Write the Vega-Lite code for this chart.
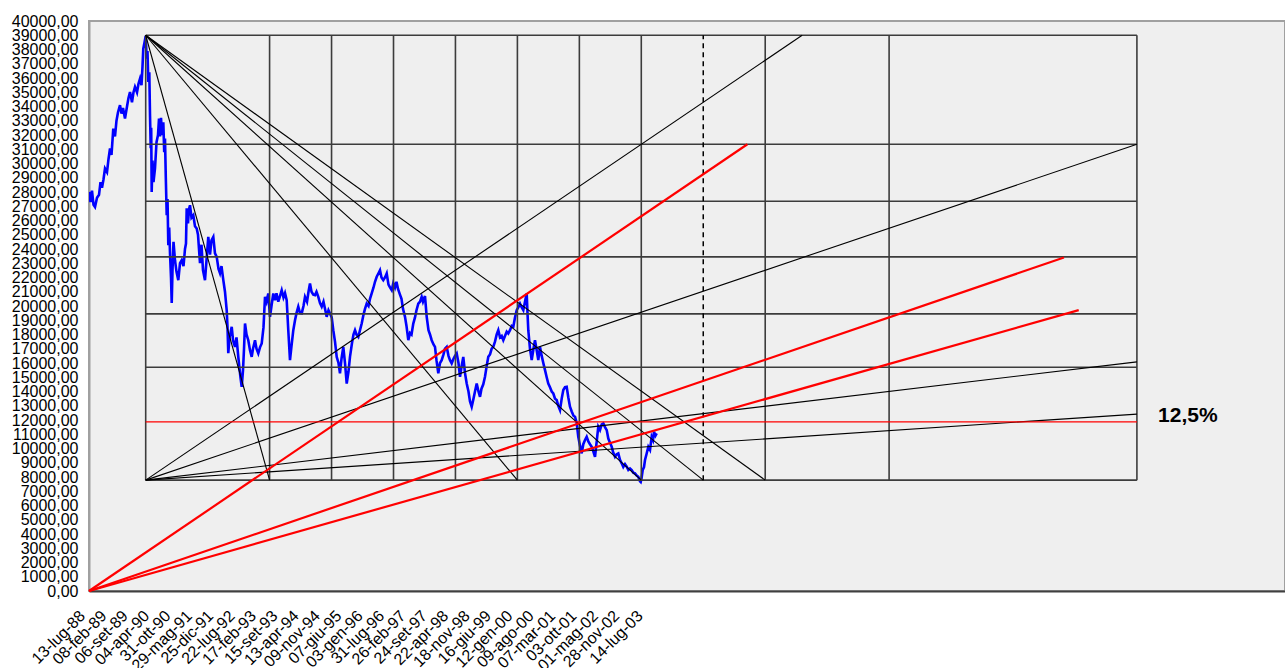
{
  "$schema": "https://vega.github.io/schema/vega-lite/v6.json",
  "width": 1196,
  "height": 570,
  "autosize": "none",
  "padding": {"left": 89, "top": 21, "right": 0, "bottom": 77},
  "background": "white",
  "config": {
    "view": {"fill": "#efefef", "stroke": "#a0a0a0", "strokeWidth": 2},
    "font": "Liberation Sans"
  },
  "datasets": {
    "nikkei": [
      {"t":1988.475,"v":28000},{"t":1988.515,"v":27300},{"t":1988.555,"v":28100},{"t":1988.596,"v":27100},{"t":1988.636,"v":26950},{"t":1988.690,"v":27600},{"t":1988.744,"v":27800},{"t":1988.784,"v":28700},{"t":1988.824,"v":28300},{"t":1988.865,"v":28900},{"t":1988.905,"v":29650},{"t":1988.959,"v":29400},{"t":1988.999,"v":30300},{"t":1989.040,"v":31050},{"t":1989.080,"v":30600},{"t":1989.128,"v":32450},{"t":1989.174,"v":31900},{"t":1989.214,"v":33000},{"t":1989.255,"v":33600},{"t":1989.309,"v":34090},{"t":1989.349,"v":33500},{"t":1989.389,"v":33900},{"t":1989.443,"v":33150},{"t":1989.497,"v":34000},{"t":1989.537,"v":34600},{"t":1989.578,"v":35020},{"t":1989.631,"v":34300},{"t":1989.672,"v":35000},{"t":1989.712,"v":35370},{"t":1989.766,"v":35000},{"t":1989.806,"v":35600},{"t":1989.847,"v":35960},{"t":1989.887,"v":35500},{"t":1989.914,"v":36800},{"t":1989.935,"v":38060},{"t":1989.968,"v":38500},{"t":1990.000,"v":38950},{"t":1990.027,"v":37360},{"t":1990.048,"v":37900},{"t":1990.070,"v":35720},{"t":1990.097,"v":36400},{"t":1990.116,"v":33380},{"t":1990.135,"v":31070},{"t":1990.148,"v":32500},{"t":1990.161,"v":28000},{"t":1990.183,"v":30200},{"t":1990.210,"v":28700},{"t":1990.250,"v":29650},{"t":1990.291,"v":31500},{"t":1990.331,"v":32000},{"t":1990.358,"v":33150},{"t":1990.385,"v":31900},{"t":1990.412,"v":33200},{"t":1990.439,"v":32000},{"t":1990.474,"v":32900},{"t":1990.498,"v":30800},{"t":1990.519,"v":31750},{"t":1990.541,"v":29000},{"t":1990.565,"v":26370},{"t":1990.587,"v":27500},{"t":1990.608,"v":24270},{"t":1990.632,"v":25500},{"t":1990.654,"v":23700},{"t":1990.681,"v":22000},{"t":1990.700,"v":20220},{"t":1990.721,"v":22500},{"t":1990.748,"v":24500},{"t":1990.788,"v":23210},{"t":1990.829,"v":22400},{"t":1990.877,"v":21810},{"t":1990.923,"v":23000},{"t":1990.969,"v":23210},{"t":1991.017,"v":22800},{"t":1991.057,"v":24000},{"t":1991.084,"v":24380},{"t":1991.103,"v":26850},{"t":1991.138,"v":25800},{"t":1991.165,"v":26800},{"t":1991.192,"v":27070},{"t":1991.232,"v":26200},{"t":1991.281,"v":26370},{"t":1991.326,"v":25600},{"t":1991.372,"v":25440},{"t":1991.407,"v":25000},{"t":1991.461,"v":23000},{"t":1991.501,"v":24300},{"t":1991.542,"v":22500},{"t":1991.595,"v":21810},{"t":1991.636,"v":23200},{"t":1991.684,"v":24850},{"t":1991.730,"v":23600},{"t":1991.770,"v":24600},{"t":1991.819,"v":24850},{"t":1991.864,"v":23700},{"t":1991.910,"v":23450},{"t":1991.959,"v":22600},{"t":1991.999,"v":22300},{"t":1992.039,"v":22800},{"t":1992.088,"v":21810},{"t":1992.133,"v":21000},{"t":1992.179,"v":19710},{"t":1992.201,"v":18500},{"t":1992.222,"v":16690},{"t":1992.255,"v":17800},{"t":1992.314,"v":18540},{"t":1992.349,"v":17600},{"t":1992.402,"v":17130},{"t":1992.443,"v":17800},{"t":1992.491,"v":16430},{"t":1992.524,"v":15600},{"t":1992.550,"v":15000},{"t":1992.583,"v":14330},{"t":1992.618,"v":15500},{"t":1992.645,"v":17000},{"t":1992.672,"v":18770},{"t":1992.712,"v":18000},{"t":1992.760,"v":17600},{"t":1992.806,"v":16900},{"t":1992.852,"v":16430},{"t":1992.887,"v":17000},{"t":1992.941,"v":17600},{"t":1992.981,"v":17000},{"t":1993.029,"v":16670},{"t":1993.075,"v":17100},{"t":1993.121,"v":17370},{"t":1993.169,"v":18500},{"t":1993.210,"v":20640},{"t":1993.250,"v":20300},{"t":1993.298,"v":20880},{"t":1993.344,"v":19240},{"t":1993.384,"v":20000},{"t":1993.433,"v":20880},{"t":1993.479,"v":20400},{"t":1993.519,"v":20900},{"t":1993.567,"v":20300},{"t":1993.613,"v":20700},{"t":1993.659,"v":21110},{"t":1993.707,"v":20600},{"t":1993.748,"v":20900},{"t":1993.793,"v":20410},{"t":1993.836,"v":18300},{"t":1993.882,"v":16200},{"t":1993.923,"v":17200},{"t":1993.971,"v":18300},{"t":1994.017,"v":19000},{"t":1994.057,"v":19500},{"t":1994.105,"v":19950},{"t":1994.151,"v":19500},{"t":1994.197,"v":19480},{"t":1994.245,"v":20000},{"t":1994.286,"v":20640},{"t":1994.340,"v":20300},{"t":1994.380,"v":21000},{"t":1994.420,"v":21580},{"t":1994.461,"v":21000},{"t":1994.509,"v":20800},{"t":1994.555,"v":20760},{"t":1994.595,"v":21000},{"t":1994.644,"v":20640},{"t":1994.689,"v":20200},{"t":1994.735,"v":19950},{"t":1994.783,"v":20300},{"t":1994.824,"v":19800},{"t":1994.869,"v":19240},{"t":1994.918,"v":19700},{"t":1994.958,"v":19480},{"t":1995.004,"v":19200},{"t":1995.047,"v":18300},{"t":1995.093,"v":17500},{"t":1995.139,"v":16430},{"t":1995.187,"v":16000},{"t":1995.227,"v":15270},{"t":1995.268,"v":16300},{"t":1995.316,"v":17130},{"t":1995.362,"v":16000},{"t":1995.408,"v":14560},{"t":1995.456,"v":15400},{"t":1995.496,"v":16430},{"t":1995.550,"v":17400},{"t":1995.590,"v":18000},{"t":1995.631,"v":18300},{"t":1995.671,"v":18000},{"t":1995.720,"v":17840},{"t":1995.765,"v":18300},{"t":1995.811,"v":18770},{"t":1995.860,"v":19400},{"t":1995.900,"v":19800},{"t":1995.946,"v":20170},{"t":1995.994,"v":20000},{"t":1996.034,"v":20500},{"t":1996.080,"v":20880},{"t":1996.129,"v":21300},{"t":1996.169,"v":21700},{"t":1996.215,"v":22050},{"t":1996.263,"v":22300},{"t":1996.303,"v":22510},{"t":1996.344,"v":22000},{"t":1996.392,"v":21810},{"t":1996.438,"v":22000},{"t":1996.484,"v":22280},{"t":1996.532,"v":21500},{"t":1996.572,"v":21300},{"t":1996.618,"v":21110},{"t":1996.661,"v":21600},{"t":1996.707,"v":21300},{"t":1996.747,"v":21700},{"t":1996.788,"v":21200},{"t":1996.841,"v":20800},{"t":1996.882,"v":20500},{"t":1996.922,"v":19800},{"t":1996.976,"v":19240},{"t":1997.016,"v":18600},{"t":1997.065,"v":17600},{"t":1997.111,"v":18100},{"t":1997.151,"v":18000},{"t":1997.199,"v":18770},{"t":1997.245,"v":19200},{"t":1997.285,"v":19700},{"t":1997.334,"v":20170},{"t":1997.380,"v":20300},{"t":1997.425,"v":20640},{"t":1997.460,"v":20300},{"t":1997.514,"v":20700},{"t":1997.560,"v":19240},{"t":1997.608,"v":18300},{"t":1997.649,"v":18000},{"t":1997.694,"v":17600},{"t":1997.743,"v":17300},{"t":1997.783,"v":17130},{"t":1997.823,"v":16200},{"t":1997.872,"v":15270},{"t":1997.918,"v":16000},{"t":1997.963,"v":16200},{"t":1998.012,"v":16600},{"t":1998.052,"v":17000},{"t":1998.098,"v":17130},{"t":1998.146,"v":16500},{"t":1998.187,"v":16200},{"t":1998.232,"v":15970},{"t":1998.281,"v":16300},{"t":1998.321,"v":16500},{"t":1998.367,"v":16670},{"t":1998.415,"v":16000},{"t":1998.456,"v":15030},{"t":1998.501,"v":15800},{"t":1998.544,"v":16430},{"t":1998.590,"v":15300},{"t":1998.636,"v":14560},{"t":1998.684,"v":14000},{"t":1998.725,"v":13300},{"t":1998.770,"v":12930},{"t":1998.819,"v":13500},{"t":1998.859,"v":14000},{"t":1998.905,"v":14560},{"t":1998.953,"v":14000},{"t":1998.994,"v":13630},{"t":1999.034,"v":14200},{"t":1999.082,"v":14500},{"t":1999.128,"v":15030},{"t":1999.174,"v":15800},{"t":1999.217,"v":16430},{"t":1999.263,"v":16600},{"t":1999.308,"v":17000},{"t":1999.351,"v":17130},{"t":1999.397,"v":17500},{"t":1999.443,"v":18000},{"t":1999.486,"v":18300},{"t":1999.532,"v":17800},{"t":1999.578,"v":17900},{"t":1999.621,"v":17600},{"t":1999.666,"v":17900},{"t":1999.712,"v":18200},{"t":1999.755,"v":18070},{"t":1999.801,"v":18300},{"t":1999.847,"v":18600},{"t":1999.890,"v":18540},{"t":1999.935,"v":19200},{"t":1999.981,"v":19710},{"t":2000.024,"v":19900},{"t":2000.070,"v":20170},{"t":2000.116,"v":19900},{"t":2000.159,"v":19710},{"t":2000.204,"v":20300},{"t":2000.250,"v":20880},{"t":2000.272,"v":19500},{"t":2000.293,"v":18300},{"t":2000.339,"v":17000},{"t":2000.385,"v":16200},{"t":2000.433,"v":17000},{"t":2000.473,"v":17600},{"t":2000.519,"v":16900},{"t":2000.562,"v":16200},{"t":2000.608,"v":17130},{"t":2000.654,"v":16500},{"t":2000.697,"v":16000},{"t":2000.743,"v":15500},{"t":2000.788,"v":15000},{"t":2000.831,"v":14560},{"t":2000.877,"v":14300},{"t":2000.923,"v":14000},{"t":2000.966,"v":13860},{"t":2001.012,"v":13500},{"t":2001.057,"v":13400},{"t":2001.100,"v":13000},{"t":2001.146,"v":12700},{"t":2001.192,"v":13500},{"t":2001.235,"v":14100},{"t":2001.281,"v":14300},{"t":2001.326,"v":14330},{"t":2001.369,"v":13600},{"t":2001.415,"v":12930},{"t":2001.461,"v":12600},{"t":2001.509,"v":12300},{"t":2001.550,"v":12230},{"t":2001.595,"v":11800},{"t":2001.638,"v":10820},{"t":2001.684,"v":10200},{"t":2001.730,"v":9660},{"t":2001.773,"v":10300},{"t":2001.819,"v":10600},{"t":2001.864,"v":10820},{"t":2001.908,"v":10500},{"t":2001.953,"v":10300},{"t":2001.999,"v":10120},{"t":2002.042,"v":9800},{"t":2002.088,"v":9420},{"t":2002.134,"v":10500},{"t":2002.176,"v":11530},{"t":2002.222,"v":11300},{"t":2002.268,"v":11700},{"t":2002.311,"v":11760},{"t":2002.357,"v":11500},{"t":2002.403,"v":11290},{"t":2002.446,"v":10700},{"t":2002.491,"v":10400},{"t":2002.537,"v":10120},{"t":2002.580,"v":9700},{"t":2002.626,"v":9420},{"t":2002.672,"v":9600},{"t":2002.715,"v":9660},{"t":2002.760,"v":9200},{"t":2002.806,"v":8960},{"t":2002.849,"v":8700},{"t":2002.895,"v":8900},{"t":2002.941,"v":8720},{"t":2002.984,"v":8500},{"t":2003.029,"v":8600},{"t":2003.075,"v":8490},{"t":2003.118,"v":8300},{"t":2003.164,"v":8250},{"t":2003.210,"v":8100},{"t":2003.253,"v":8020},{"t":2003.298,"v":7700},{"t":2003.317,"v":7650},{"t":2003.339,"v":7900},{"t":2003.371,"v":8490},{"t":2003.406,"v":8700},{"t":2003.433,"v":9190},{"t":2003.473,"v":9600},{"t":2003.522,"v":10120},{"t":2003.568,"v":9900},{"t":2003.613,"v":10820},{"t":2003.648,"v":10600},{"t":2003.675,"v":11170},{"t":2003.715,"v":10900},{"t":2003.748,"v":11060}
    ],
    "box": [
      {"t":1990,"v":39000,"t2":2016.667,"v2":39000},
      {"t":1990,"v":31350,"t2":2016.667,"v2":31350},
      {"t":1990,"v":27350,"t2":2016.667,"v2":27350},
      {"t":1990,"v":23450,"t2":2016.667,"v2":23450},
      {"t":1990,"v":19450,"t2":2016.667,"v2":19450},
      {"t":1990,"v":15700,"t2":2016.667,"v2":15700},
      {"t":1990,"v":7780,"t2":2016.667,"v2":7780},
      {"t":1990,"v":7780,"t2":1990,"v2":39000},
      {"t":1993.333,"v":7780,"t2":1993.333,"v2":39000},
      {"t":1995,"v":7780,"t2":1995,"v2":39000},
      {"t":1996.667,"v":7780,"t2":1996.667,"v2":39000},
      {"t":1998.333,"v":7780,"t2":1998.333,"v2":39000},
      {"t":2000,"v":7780,"t2":2000,"v2":39000},
      {"t":2001.667,"v":7780,"t2":2001.667,"v2":39000},
      {"t":2003.333,"v":7780,"t2":2003.333,"v2":39000},
      {"t":2006.667,"v":7780,"t2":2006.667,"v2":39000},
      {"t":2010,"v":7780,"t2":2010,"v2":39000},
      {"t":2016.667,"v":7780,"t2":2016.667,"v2":39000}
    ],
    "dash": [
      {"t":2005,"v":7780,"t2":2005,"v2":39000}
    ],
    "diag": [
      {"t":1990,"v":39000,"t2":1993.333,"v2":7780},
      {"t":1990,"v":39000,"t2":2000,"v2":7780},
      {"t":1990,"v":39000,"t2":2003.333,"v2":7780},
      {"t":1990,"v":39000,"t2":2005,"v2":7780},
      {"t":1990,"v":39000,"t2":2006.667,"v2":7780},
      {"t":1990,"v":7780,"t2":2007.661,"v2":39000},
      {"t":1990,"v":7780,"t2":2016.667,"v2":31350},
      {"t":1990,"v":7780,"t2":2016.667,"v2":16080},
      {"t":1990,"v":7780,"t2":2016.667,"v2":12414}
    ],
    "red": [
      {"t":1988.4746,"v":0,"t2":2006.188,"v2":31350},
      {"t":1988.4746,"v":0,"t2":2014.705,"v2":23400},
      {"t":1988.4746,"v":0,"t2":2015.101,"v2":19710}
    ],
    "redh": [
      {"t":1990,"v":11870,"t2":2016.667,"v2":11870}
    ],
    "note": [
      {"t":2017.235,"v":12250,"s":"12,5%"}
    ]
  },
  "encoding": {
    "x": {
      "field": "t",
      "type": "quantitative",
      "scale": {"domain": [1988.4746, 2020.6511], "nice": false, "zero": false},
      "axis": {
        "title": null,
        "values": [1988.530,1989.105,1989.680,1990.255,1990.830,1991.405,1991.980,1992.555,1993.130,1993.705,1994.280,1994.854,1995.429,1996.004,1996.579,1997.154,1997.729,1998.304,1998.879,1999.454,2000.029,2000.604,2001.179,2001.754,2002.329,2002.904,2003.532],
        "labelExpr": "['13-lug-88','08-feb-89','06-set-89','04-apr-90','31-ott-90','29-mag-91','25-dic-91','22-lug-92','17-feb-93','15-set-93','13-apr-94','09-nov-94','07-giu-95','03-gen-96','31-lug-96','26-feb-97','24-set-97','22-apr-98','18-nov-98','16-giu-99','12-gen-00','09-ago-00','07-mar-01','03-ott-01','01-mag-02','28-nov-02','14-lug-03'][min(26, round((datum.value - 1988.53) / 0.57495))]",
        "labelAngle": -45,
        "labelAlign": "right",
        "labelBaseline": "middle",
        "labelPadding": 22,
        "labelOffset": -9,
        "labelFontSize": 16,
        "labelColor": "#000000",
        "labelOverlap": false,
        "labelFlush": false,
        "labelBound": false,
        "ticks": false,
        "grid": false,
        "domainColor": "#404040",
        "domainWidth": 2
      }
    },
    "y": {
      "field": "v",
      "type": "quantitative",
      "scale": {"domain": [0, 40000], "nice": false},
      "axis": {
        "title": null,
        "values": [0,1000,2000,3000,4000,5000,6000,7000,8000,9000,10000,11000,12000,13000,14000,15000,16000,17000,18000,19000,20000,21000,22000,23000,24000,25000,26000,27000,28000,29000,30000,31000,32000,33000,34000,35000,36000,37000,38000,39000,40000],
        "labelExpr": "replace(format(datum.value, '.2f'), '.', ',')",
        "labelFontSize": 16,
        "labelColor": "#000000",
        "labelPadding": 11,
        "labelOverlap": false,
        "labelFlush": false,
        "ticks": false,
        "grid": false,
        "domainColor": "#a0a0a0",
        "domainWidth": 2
      }
    }
  },
  "layer": [
    {
      "data": {"name": "nikkei"},
      "mark": {"type": "line", "color": "#0000ff", "strokeWidth": 2.6, "clip": true}
    },
    {
      "data": {"name": "box"},
      "mark": {"type": "rule", "color": "#3c3c3c", "strokeWidth": 1.6},
      "encoding": {"x2": {"field": "t2"}, "y2": {"field": "v2"}}
    },
    {
      "data": {"name": "dash"},
      "mark": {"type": "rule", "color": "#000000", "strokeWidth": 1.5, "strokeDash": [5, 4]},
      "encoding": {"x2": {"field": "t2"}, "y2": {"field": "v2"}}
    },
    {
      "data": {"name": "diag"},
      "mark": {"type": "rule", "color": "#000000", "strokeWidth": 1.1},
      "encoding": {"x2": {"field": "t2"}, "y2": {"field": "v2"}}
    },
    {
      "data": {"name": "redh"},
      "mark": {"type": "rule", "color": "#ff0000", "strokeWidth": 1.2},
      "encoding": {"x2": {"field": "t2"}, "y2": {"field": "v2"}}
    },
    {
      "data": {"name": "red"},
      "mark": {"type": "rule", "color": "#ff0000", "strokeWidth": 2.2},
      "encoding": {"x2": {"field": "t2"}, "y2": {"field": "v2"}}
    },
    {
      "data": {"name": "note"},
      "mark": {"type": "text", "align": "left", "baseline": "middle", "fontSize": 21, "fontWeight": "bold", "font": "Liberation Sans", "color": "#000000"},
      "encoding": {"text": {"field": "s"}}
    }
  ]
}
